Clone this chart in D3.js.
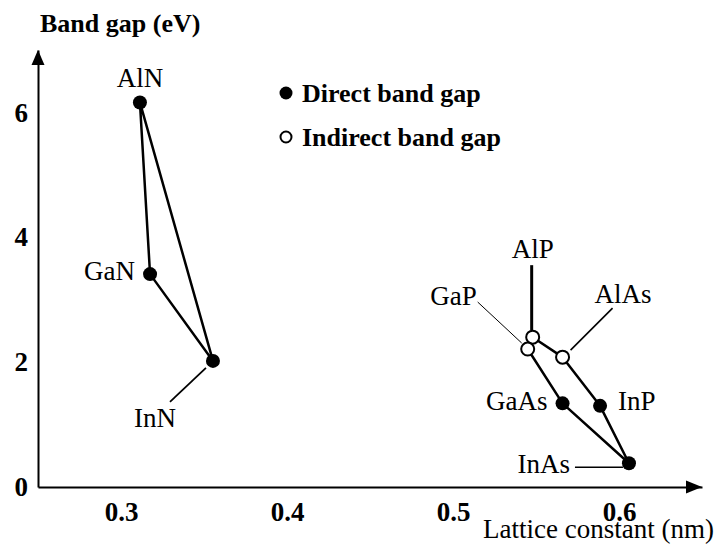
<!DOCTYPE html>
<html>
<head>
<meta charset="utf-8">
<script src="https://cdn.jsdelivr.net/npm/d3@7"></script>
<style>
  html, body { margin: 0; padding: 0; background: #fff; }
  svg { display: block; font-family: "Liberation Serif", "Times New Roman", serif; }
</style>
</head>
<body>
<div id="chart"></div>
<script>
// compounds, lattice constant (nm), band gap (eV)
const compounds = ['AlN', 'GaN', 'InN', 'AlP', 'GaP', 'AlAs', 'GaAs', 'InP', 'InAs'];
const lattice = [0.3114, 0.3175, 0.3554, 0.548, 0.545, 0.566, 0.566, 0.5886, 0.606];
const bandGap = [6.16, 3.41, 2.02, 2.40, 2.21, 2.08, 1.34, 1.30, 0.38];
const gapType = ['direct', 'direct', 'direct', 'indirect', 'indirect', 'indirect', 'direct', 'direct', 'direct'];

// outlines joining the compounds
const nitrideLoop = ['AlN', 'GaN', 'InN', 'AlN'];
const otherLoop = ['AlP', 'AlAs', 'InP', 'InAs', 'GaAs', 'GaP', 'AlP'];

const xTicks = [0.3, 0.4, 0.5, 0.6];
const yTicks = [0, 2, 4, 6];
const legendLabels = ['Direct band gap', 'Indirect band gap'];

const width = 718, height = 552;

const svg = d3.select('#chart').
  append('svg').
  attr('width', width).
  attr('height', height);

const x = d3.scaleLinear().domain([0.25, 0.65]).range([38, 702]);
const y = d3.scaleLinear().domain([0, 7]).range([487, 50]);

const points = compounds.map(function(c, i) {
  return { name: c, x: lattice[i], y: bandGap[i], type: gapType[i] };
});
const byName = {};
points.forEach(function(p) { byName[p.name] = p; });

// axes
const yAxis = d3.axisLeft(y).tickValues(yTicks).tickFormat(d3.format('d')).tickSize(0).tickSizeOuter(0).tickPadding(10);
const gy = svg.append('g').attr('transform', 'translate(' + x(0.25) + ',0)').call(yAxis);

const xAxis = d3.axisBottom(x).tickValues(xTicks).tickFormat(d3.format('.1f')).tickSize(0).tickSizeOuter(0).tickPadding(15);
const gx = svg.append('g').attr('transform', 'translate(0,' + y(0) + ')').call(xAxis);

[gx, gy].forEach(function(g) {
  g.select('.domain').attr('stroke', '#000').attr('stroke-width', 2);
  g.selectAll('text').
    attr('fill', '#000').
    style('font-family', '"Liberation Serif", serif').
    style('font-size', '27px').
    style('font-weight', 'bold');
});

// arrow heads
const x0 = x(0.25), y0 = y(0);
svg.append('path').
  attr('d', 'M' + x0 + ',' + y(7) + 'L' + (x0 - 6.5) + ',' + (y(7) + 15) + 'L' + (x0 + 6.5) + ',' + (y(7) + 15) + 'Z').
  attr('fill', '#000');
svg.append('path').
  attr('d', 'M' + x(0.65) + ',' + y0 + 'L' + (x(0.65) - 16) + ',' + (y0 - 6.5) + 'L' + (x(0.65) - 16) + ',' + (y0 + 6.5) + 'Z').
  attr('fill', '#000');

// axis titles
svg.append('text').
  attr('x', 40).
  attr('y', 32).
  style('font-size', '26px').
  style('font-weight', 'bold').
  text('Band gap (eV)');

svg.append('text').
  attr('x', 714).
  attr('y', 538).
  attr('text-anchor', 'end').
  style('font-size', '27px').
  text('Lattice constant (nm)');

// connecting lines
const line = d3.line().
  x(function(d) { return x(byName[d].x); }).
  y(function(d) { return y(byName[d].y); });

[nitrideLoop, otherLoop].forEach(function(loop) {
  svg.append('path').
    attr('d', line(loop)).
    attr('fill', 'none').
    attr('stroke', '#000').
    attr('stroke-width', 2.5).
    attr('stroke-linejoin', 'round');
});

// labels with leader lines: offsets in px from the point
const labelPos = {
  AlN: { dx: 0, dy: -15, anchor: 'middle' },
  GaN: { dx: -15, dy: 6, anchor: 'end' },
  InN: { dx: -58, dy: 66, anchor: 'middle', lead: [-43, 41, -7, 7], lw: 1.8 },
  AlP: { dx: 0, dy: -79, anchor: 'middle', lead: [-1, -72, -1, -7], lw: 3 },
  GaP: { dx: -51, dy: -44, anchor: 'end', lead: [-50, -47, -6, -6], lw: 1 },
  AlAs: { dx: 32, dy: -54, anchor: 'start', lead: [50, -49, 8, -7], lw: 1.6 },
  GaAs: { dx: -15, dy: 7, anchor: 'end' },
  InP: { dx: 18, dy: 4, anchor: 'start' },
  InAs: { dx: -59, dy: 10, anchor: 'end', lead: [-54, 4, -6, 4], lw: 1.6 }
};

points.forEach(function(p) {
  const o = labelPos[p.name];
  const px = x(p.x), py = y(p.y);
  if (o.lead) {
    svg.append('line').
      attr('x1', px + o.lead[0]).attr('y1', py + o.lead[1]).
      attr('x2', px + o.lead[2]).attr('y2', py + o.lead[3]).
      attr('stroke', '#000').
      attr('stroke-width', o.lw);
  }
  svg.append('text').
    attr('x', px + o.dx).
    attr('y', py + o.dy).
    attr('text-anchor', o.anchor).
    style('font-size', '27px').
    text(p.name);
});

// markers
svg.selectAll('circle.pt').
  data(points).
  enter().append('circle').
    attr('class', 'pt').
    attr('cx', function(d) { return x(d.x); }).
    attr('cy', function(d) { return y(d.y); }).
    attr('r', function(d) { return d.type === 'direct' ? 7 : 6.5; }).
    attr('fill', function(d) { return d.type === 'direct' ? '#000' : '#fff'; }).
    attr('stroke', '#000').
    attr('stroke-width', function(d) { return d.type === 'direct' ? 0 : 2; });

// legend
const legend = svg.append('g');
legendLabels.forEach(function(label, i) {
  const ly = 93 + i * 44;
  legend.append('circle').
    attr('cx', 286).
    attr('cy', ly).
    attr('r', i === 0 ? 6.5 : 5.5).
    attr('fill', i === 0 ? '#000' : '#fff').
    attr('stroke', '#000').
    attr('stroke-width', i === 0 ? 0 : 2);
  legend.append('text').
    attr('x', 302).
    attr('y', ly + 9).
    style('font-size', '26px').
    style('font-weight', 'bold').
    text(label);
});
</script>
</body>
</html>
